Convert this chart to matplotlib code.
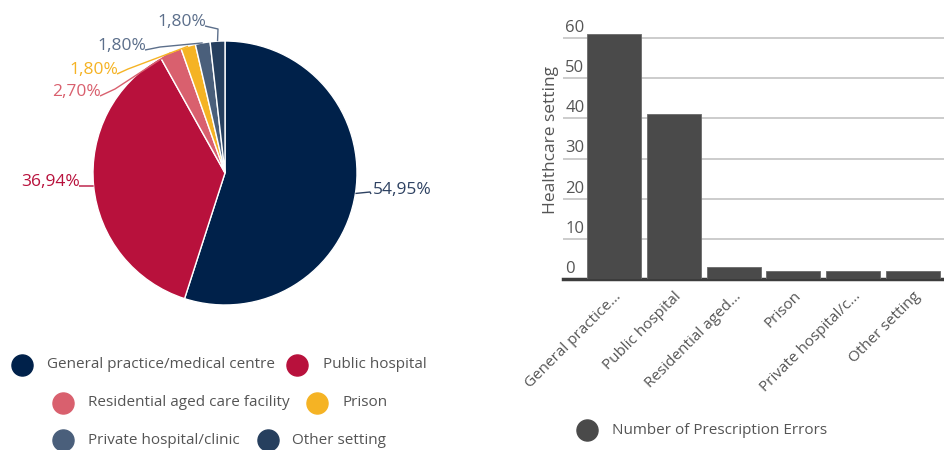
import matplotlib

matplotlib.use("Agg")
import matplotlib.pyplot as plt
import numpy as np
from matplotlib.transforms import blended_transform_factory

plt.rcParams["font.family"] = ["Open Sans", "DejaVu Sans"]

# data
settings = [
    "General practice/medical centre",
    "Public hospital",
    "Residential aged care facility",
    "Prison",
    "Private hospital/clinic",
    "Other setting",
]
short_labels = [
    "General practice...",
    "Public hospital",
    "Residential aged...",
    "Prison",
    "Private hospital/c...",
    "Other setting",
]
errors = [61, 41, 3, 2, 2, 2]
pct_labels = ["54,95%", "36,94%", "2,70%", "1,80%", "1,80%", "1,80%"]
y_ticks = [0, 10, 20, 30, 40, 50, 60]

slice_colors = ["#00214a", "#b8113c", "#d9606e", "#f5b324", "#4a5f7b", "#263f5e"]
label_colors = ["#2e4262", "#b8113c", "#d9606e", "#f5b324", "#5c6f8b", "#5c6f8b"]
bar_color = "#4a4a4a"
text_grey = "#555555"

W, H = 944, 450
fig = plt.figure(figsize=(W / 100, H / 100), dpi=100)

# full-figure axes in pixel units (y up) for pie + legends
ax = fig.add_axes([0, 0, 1, 1])


def py(y):
    # image y (top-down) -> axes y
    return H - y


cx, cy, r = 225, py(173), 132
wedges, _ = ax.pie(
    errors, colors=slice_colors, startangle=90, counterclock=False,
    center=(cx, cy), radius=r, frame=True,
    wedgeprops=dict(edgecolor="white", linewidth=1),
)
ax.set_xlim(0, W)
ax.set_ylim(0, H)
ax.axis("off")

# label layout: (text x, text y, ha) and elbow point, in image pixels
label_pos = [(373, 190, "left"), (80, 182, "right"), (101, 92, "right"),
             (118, 70, "right"), (146, 46, "right"), (206, 22, "right")]
elbows = [(370, 192), (93, 186), (115, 89), (128, 69), (160, 47), (218, 29)]

fracs = np.array(errors) / sum(errors)
starts = np.concatenate([[0], np.cumsum(fracs)[:-1]])
for i, (lab, f0, f) in enumerate(zip(pct_labels, starts, fracs)):
    theta = np.deg2rad(90 - 360 * (f0 + f / 2))
    ex, ey = cx + r * np.cos(theta), cy + r * np.sin(theta)
    tx, ty, ha = label_pos[i]
    bx, by = elbows[i]
    endx = tx - 1 if ha == "right" else tx - 2
    ax.plot([ex, bx, endx], [ey, py(by), py(ty + 4)], color=label_colors[i],
            lw=1, solid_capstyle="butt")
    ax.text(tx, py(ty), lab, ha=ha, va="center", color=label_colors[i],
            fontsize=12.5)

# pie legend (manual rows, centred)
legend_rows = [
    [(22, 47, 0), (297, 323, 1)],
    [(63, 88, 2), (317, 342, 3)],
    [(63, 88, 4), (268, 292, 5)],
]
row_y = [365, 403, 440]
for row, yy in zip(legend_rows, row_y):
    for mx, tx, k in row:
        ax.scatter([mx], [py(yy)], s=230, color=slice_colors[k], zorder=3)
        ax.text(tx, py(yy), settings[k], va="center", ha="left",
                color=text_grey, fontsize=11)

# bar legend
ax.scatter([587], [py(430)], s=230, color=bar_color, zorder=3)
ax.text(612, py(430), "Number of Prescription Errors", va="center",
        ha="left", color=text_grey, fontsize=11)

# bar chart
x0, y0, x1 = 563, 279, 944
bx_ax = fig.add_axes([x0 / W, (H - y0) / H, (x1 - x0) / W, y0 / H])
px_per_unit = (278 - 37) / 60
x = np.arange(len(errors))
bx_ax.bar(x, errors, width=0.9, color=bar_color, edgecolor="#6a6a6a",
          linewidth=0.6, zorder=3)
slot = 59.8
bx_ax.set_xlim(-(614 - x0) / slot, (x1 - 614) / slot)
bx_ax.set_ylim(0, y0 / px_per_unit)
for v in y_ticks:
    bx_ax.axhline(v, color="#c4c4c4", lw=1.2, zorder=1)
trans = blended_transform_factory(bx_ax.transAxes, bx_ax.transData)
for v in y_ticks:
    bx_ax.text(0.006, v + 0.5, str(v), transform=trans, ha="left",
               va="bottom", color=text_grey, fontsize=12)
bx_ax.set_yticks([])
for s in ["top", "right", "left"]:
    bx_ax.spines[s].set_visible(False)
bx_ax.spines["bottom"].set_color("#3c3c3c")
bx_ax.spines["bottom"].set_linewidth(2.5)
bx_ax.set_xticks(x)
bx_ax.set_xticklabels(short_labels, rotation=45, ha="right",
                      rotation_mode="anchor", color=text_grey, fontsize=11)
bx_ax.tick_params(axis="x", length=0, pad=7)
bx_ax.set_ylabel("Healthcare setting", color=text_grey, fontsize=12.5,
                 labelpad=3)
bx_ax.patch.set_alpha(0)

fig.savefig("out.png", dpi=100)
plt.close(fig)
